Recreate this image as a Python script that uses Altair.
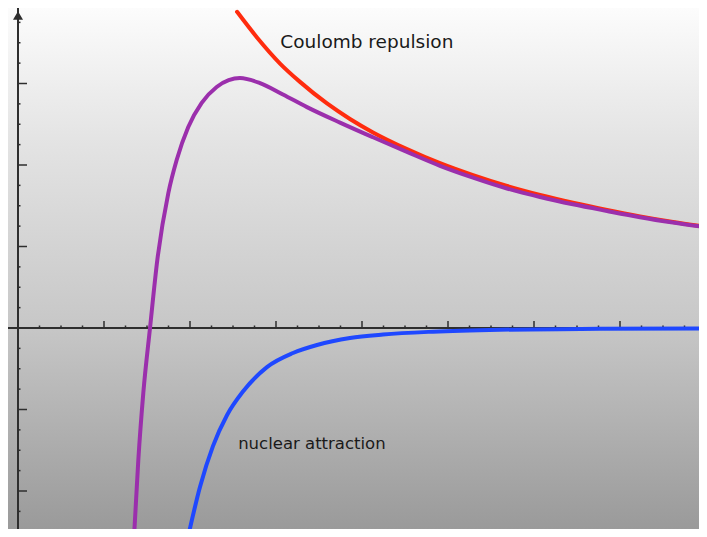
import altair as alt
import pandas as pd

# ---- data (x in major-tick units, y in major-tick units) ----
coulomb_r = [2.547, 2.779, 3.047, 3.279, 3.593, 3.860, 4.128, 4.523, 4.907, 5.291,
             5.686, 6.070, 6.453, 6.849, 7.233, 7.616, 8.012]
coulomb_e = [3.880, 3.565, 3.245, 3.020, 2.755, 2.565, 2.400, 2.195, 2.022, 1.875,
             1.742, 1.632, 1.536, 1.448, 1.370, 1.301, 1.239]

nuclear_r = [1.977, 2.116, 2.267, 2.430, 2.616, 2.895, 3.198, 3.477, 3.860, 4.244,
             4.826, 5.605, 6.770, 8.012]
nuclear_e = [-2.564, -1.951, -1.450, -1.070, -0.780, -0.480, -0.307, -0.209, -0.123,
             -0.080, -0.045, -0.022, -0.010, -0.005]

total_r = [1.349, 1.399, 1.457, 1.535, 1.620, 1.748, 1.845, 1.980, 2.136, 2.310,
           2.450, 2.581, 2.814, 3.081, 3.360, 3.744, 4.128, 4.523, 4.907, 5.291,
           5.686, 6.070, 6.453, 6.849, 7.233, 7.616, 8.012]
total_e = [-2.564, -1.620, -0.798, 0.000, 0.834, 1.656, 2.061, 2.466, 2.761, 2.957,
           3.040, 3.067, 3.005, 2.865, 2.710, 2.520, 2.340, 2.160, 1.990, 1.845,
           1.712, 1.608, 1.518, 1.436, 1.360, 1.294, 1.234]

label_text = ["Coulomb repulsion", "nuclear attraction"]
label_x = [3.05, 2.56]
label_y = [3.51, -1.42]
label_size = [18.5, 16.5]

x_major_ticks = [1, 2, 3, 4, 5, 6, 7, 8]
x_minor_ticks = [i / 4 for i in range(1, 32) if i % 4 != 0]
y_major_ticks = [-2, -1, 1, 2, 3]
y_minor_ticks = [i / 4 for i in range(-10, 16) if i % 4 != 0]

# ---- layout (plot area = page area inside the 8px body margin) ----
W, H = 691, 521
PX_X, PX_Y = 86.0, 81.5
x_dom = [-10 / PX_X, (W - 10) / PX_X]
y_dom = [-(H - 320) / PX_Y, 320 / PX_Y]

xs = alt.Scale(domain=x_dom, nice=False, zero=False)
ys = alt.Scale(domain=y_dom, nice=False, zero=False)


def X(f="x"):
    return alt.X(f"{f}:Q", scale=xs, axis=None)


def Y(f="y"):
    return alt.Y(f"{f}:Q", scale=ys, axis=None)


curves = pd.concat([
    pd.DataFrame({"x": nuclear_r, "y": nuclear_e, "s": "nuclear", "o": 0}),
    pd.DataFrame({"x": coulomb_r, "y": coulomb_e, "s": "coulomb", "o": 1}),
    pd.DataFrame({"x": total_r, "y": total_e, "s": "total", "o": 2}),
])

bg = alt.Chart(pd.DataFrame({"a": [0]})).mark_rect(
    color=alt.LinearGradient(
        gradient="linear",
        stops=[alt.GradientStop(color="#fcfcfc", offset=0),
               alt.GradientStop(color="#e4e4e4", offset=0.25),
               alt.GradientStop(color="#c8c8c8", offset=0.6),
               alt.GradientStop(color="#9a9a9a", offset=1)],
        x1=0, x2=0, y1=0, y2=1)
).encode(x=alt.value(0), x2=alt.value(W), y=alt.value(0), y2=alt.value(H))

origin = pd.DataFrame({"x": [0.0], "y": [0.0]})
axis_col = "#2e2e2e"
x_line = alt.Chart(origin).mark_rule(color=axis_col, strokeWidth=2).encode(y=Y())
y_line = alt.Chart(origin).mark_rule(color=axis_col, strokeWidth=2).encode(x=X())

xt_major = alt.Chart(pd.DataFrame({"x": x_major_ticks, "y": 0.0})).mark_rule(
    color=axis_col, strokeWidth=1.5, y2Offset=-7).encode(x=X(), y=Y(), y2="y")
xt_minor = alt.Chart(pd.DataFrame({"x": x_minor_ticks, "y": 0.0})).mark_rule(
    color=axis_col, strokeWidth=1.5, y2Offset=-2.5).encode(x=X(), y=Y(), y2="y")
yt_major = alt.Chart(pd.DataFrame({"y": y_major_ticks, "x": 0.0})).mark_rule(
    color=axis_col, strokeWidth=1.5, x2Offset=9).encode(x=X(), x2="x", y=Y())
yt_minor = alt.Chart(pd.DataFrame({"y": y_minor_ticks, "x": 0.0})).mark_rule(
    color=axis_col, strokeWidth=1.5, x2Offset=2.5).encode(x=X(), x2="x", y=Y())

arrow = alt.Chart(origin).mark_point(
    shape="triangle-up", filled=True, size=100, color=axis_col, opacity=1
).encode(x=X(), y=alt.value(7.5))

lines = alt.Chart(curves).mark_line(
    strokeWidth=4, interpolate="monotone", clip=True, strokeCap="round"
).encode(
    x=X(), y=Y(), detail="s:N", order="o:Q",
    color=alt.Color("s:N", legend=None,
                    scale=alt.Scale(domain=["nuclear", "coulomb", "total"],
                                    range=["#1f48ff", "#ff2c0e", "#9b2fac"])),
)
blue = lines.transform_filter("datum.s == 'nuclear'")
red = lines.transform_filter("datum.s == 'coulomb'")
purple = lines.transform_filter("datum.s == 'total'")

labels = pd.DataFrame({"x": label_x, "y": label_y, "t": label_text, "fs": label_size})
text = alt.Chart(labels).mark_text(
    align="left", baseline="middle", font="DejaVu Sans", color="#1a1a1a"
).encode(x=X(), y=Y(), text="t:N", size=alt.Size("fs:Q", scale=None, legend=None))

chart = alt.layer(
    bg, x_line, y_line, xt_major, xt_minor, yt_major, yt_minor, arrow,
    blue, red, purple, text
).properties(
    width=W, height=H, padding=0, autosize=alt.AutoSizeParams(type="none")
).configure_view(stroke=None)

chart.save("out.html", embed_options={"renderer": "svg", "actions": False})
